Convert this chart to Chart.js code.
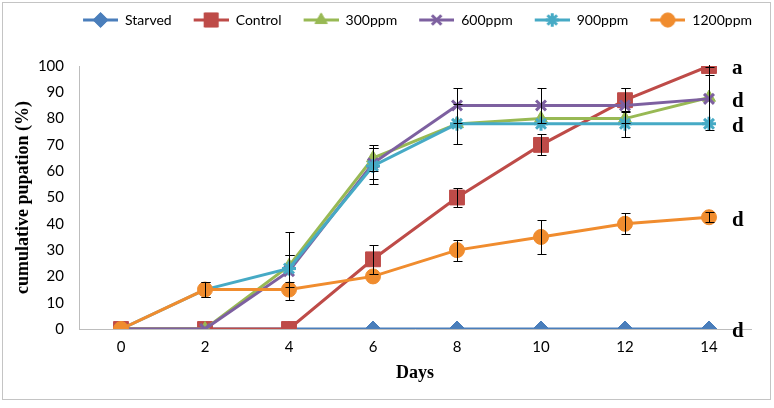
<!DOCTYPE html>
<html>
<head>
<meta charset="utf-8">
<script src="https://cdn.jsdelivr.net/npm/chart.js@4.4.1/dist/chart.umd.min.js"></script>
<style>
  html, body { margin: 0; padding: 0; background: #fff; }
  #wrap { width: 774px; height: 408px; }
</style>
</head>
<body>
<div id="wrap"><canvas id="pupChart" width="774" height="408"></canvas></div>
<script>
// Data
const days = ['0', '2', '4', '6', '8', '10', '12', '14'];

const starved   = [0, 0, 0, 0, 0, 0, 0, 0];
const control   = [0, 0, 0, 26.5, 50, 70, 87, 100];
const ppm300    = [0, 0, 24, 65, 78, 80, 80, 88];
const ppm600    = [0, 0, 22, 63, 85, 85, 85, 87.5];
const ppm900    = [0, 15, 23, 62, 78, 78, 78, 78];
const ppm1200   = [0, 15, 15, 20, 30, 35, 40, 42.5];

// error bar half-widths (SE)
const starvedErr = [0, 0, 0, 0, 0, 0, 0, 0];
const controlErr = [0, 0, 0, 5.5, 3.6, 4, 4.6, 3.4];
const ppm300Err  = [0, 0, 13, 5, 0, 0, 0, 0];
const ppm600Err  = [0, 0, 6, 6, 6.6, 6.6, 6.6, 12];
const ppm900Err  = [0, 3, 5, 7, 7.6, 0, 5, 0];
const ppm1200Err = [0, 3, 0, 0, 4, 6.5, 4, 2];

// significance letters next to the last point of a series
const letterSeries = ['Control', '600ppm', '900ppm', '1200ppm', 'Starved'];
const letters = ['a', 'd', 'd', 'd', 'd'];

const ctx = document.getElementById('pupChart').getContext('2d');

// helper: marker + line image for the legend
function legendIcon(color, style, radius, borderWidth) {
    const c = document.createElement('canvas');
    c.width = 44;
    c.height = 20;
    const g = c.getContext('2d');
    g.strokeStyle = color;
    g.lineWidth = 3;
    g.beginPath();
    g.moveTo(9, 10);
    g.lineTo(44, 10);
    g.stroke();
    g.fillStyle = color;
    g.lineWidth = borderWidth;
    Chart.helpers.drawPoint(g, { pointStyle: style, radius: radius, borderWidth: borderWidth, rotation: 0 }, 26.5, 10);
    return c;
}

function series(label, data, err, color, style, radius, bw) {
    return {
        label: label,
        data: data,
        err: err,
        borderColor: color,
        backgroundColor: color,
        pointBackgroundColor: color,
        pointBorderColor: color,
        pointStyle: style,
        pointRadius: radius,
        pointHoverRadius: radius,
        pointBorderWidth: bw,
        borderWidth: 3,
        tension: 0,
        fill: false,
        icon: legendIcon(color, style, radius * 0.95, bw)
    };
}

const datasets = [
    series('Starved', starved, starvedErr, '#4A7EBB', 'rectRot', 8, 1),
    series('Control', control, controlErr, '#BE4B48', 'rect', 10.5, 1),
    series('300ppm', ppm300, ppm300Err, '#98B954', 'triangle', 7.5, 1),
    series('600ppm', ppm600, ppm600Err, '#7D60A0', 'crossRot', 7, 3),
    series('900ppm', ppm900, ppm900Err, '#46AAC5', 'star', 7, 3),
    series('1200ppm', ppm1200, ppm1200Err, '#F08C2E', 'circle', 7.5, 1)
];
// later series sit on top, like the original
datasets.forEach(function (d, i) { d.order = datasets.length - i; });

const frame = {
    id: 'frame',
    afterLayout(chart) {
        // nudge the legend to the right, as in the original
        chart.legend.left += 14;
        chart.legend.right += 14;
    },
    beforeDraw(chart) {
        const c = chart.ctx;
        c.save();
        c.fillStyle = '#fff';
        c.fillRect(0, 0, chart.width, chart.height);
        c.strokeStyle = '#c4c4c4';
        c.lineWidth = 1;
        c.strokeRect(2.5, 2.5, 768, 397);
        c.restore();
    }
};

const errorBars = {
    id: 'errorBars',
    afterDatasetsDraw(chart) {
        const c = chart.ctx;
        const xs = chart.scales.x, ys = chart.scales.y;
        const area = chart.chartArea;
        c.save();
        c.beginPath();
        c.rect(area.left, area.top - 1, area.right - area.left, area.bottom - area.top + 2);
        c.clip();
        c.strokeStyle = '#000';
        c.lineWidth = 1;
        chart.data.datasets.forEach(function (ds) {
            ds.data.forEach(function (v, j) {
                const e = ds.err[j];
                if (!e) return;
                const x = Math.round(xs.getPixelForValue(j)) + 0.5;
                const yt = Math.round(ys.getPixelForValue(v + e)) + 0.5;
                const yb = Math.round(ys.getPixelForValue(v - e)) + 0.5;
                c.beginPath();
                c.moveTo(x, yt); c.lineTo(x, yb);
                c.moveTo(x - 4, yt); c.lineTo(x + 5, yt);
                c.moveTo(x - 4, yb); c.lineTo(x + 5, yb);
                c.stroke();
            });
        });
        c.restore();
        // letters
        c.save();
        c.fillStyle = '#000';
        c.font = 'bold 21px "Liberation Serif", "Times New Roman", serif';
        c.textAlign = 'left';
        c.textBaseline = 'middle';
        letterSeries.forEach(function (name, k) {
            const ds = chart.data.datasets.find(function (d) { return d.label === name; });
            const last = ds.data.length - 1;
            const x = xs.getPixelForValue(last) + 23;
            const y = ys.getPixelForValue(ds.data[last]) + 3;
            c.fillText(letters[k], x, y);
        });
        c.restore();
    }
};

const pupChart = new Chart(ctx, {
    type: 'line',
    data: { labels: days, datasets: datasets },
    plugins: [frame, errorBars],
    options: {
        responsive: false,
        animation: false,
        layout: { padding: { top: 0, left: 8, right: 23, bottom: 8 } },
        plugins: {
            legend: {
                display: true,
                position: 'top',
                align: 'end',
                weight: 1000,
                labels: {
                    usePointStyle: true,
                    pointStyleWidth: 44,
                    boxHeight: 14,
                    padding: 13,
                    color: '#000',
                    font: { family: 'Lato', size: 14 },
                    generateLabels(chart) {
                        return chart.data.datasets.map(function (d, i) {
                            return {
                                text: d.label,
                                pointStyle: d.icon,
                                fillStyle: d.borderColor,
                                strokeStyle: d.borderColor,
                                lineWidth: 0,
                                hidden: false,
                                datasetIndex: i
                            };
                        });
                    }
                }
            },
            // empty title used only as a gap under the legend
            title: {
                display: true,
                text: '',
                position: 'top',
                weight: 500,
                padding: { top: 28, bottom: 0 },
                font: { size: 1, lineHeight: 1 }
            },
            tooltip: { enabled: false }
        },
        scales: {
            x: {
                type: 'category',
                offset: true,
                grid: { display: false, drawTicks: false },
                border: { display: true, color: '#bdbdbd', width: 1 },
                ticks: { color: '#000', padding: 9, font: { family: 'Lato', size: 15 } },
                title: {
                    display: true,
                    text: 'Days',
                    color: '#000',
                    padding: { top: 4, bottom: 16 },
                    font: { family: 'Liberation Serif', size: 18, weight: 'bold' }
                },
                afterFit(scale) { scale.height = 71; }
            },
            y: {
                min: 0,
                max: 100,
                grid: { display: false, drawTicks: false },
                border: { display: true, color: '#bdbdbd', width: 1 },
                ticks: { stepSize: 10, color: '#000', padding: 15, font: { family: 'Lato', size: 15 } },
                title: {
                    display: true,
                    text: 'cumulative pupation (%)',
                    color: '#000',
                    padding: { top: 5, bottom: 4 },
                    font: { family: 'Liberation Serif', size: 18, weight: 'bold' }
                },
                afterFit(scale) { scale.width = 71; }
            }
        }
    }
});
</script>
</body>
</html>
